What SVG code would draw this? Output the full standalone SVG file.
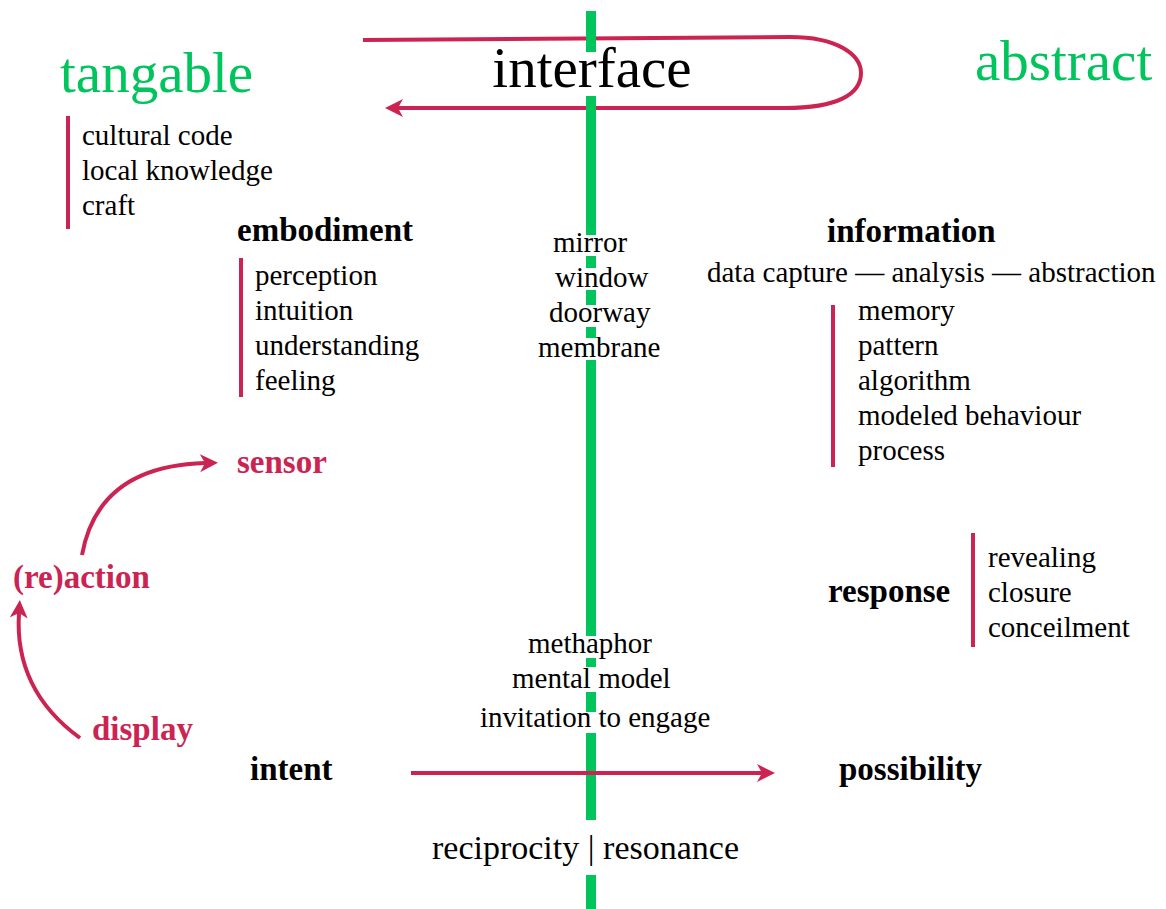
<svg xmlns="http://www.w3.org/2000/svg" width="1166" height="909" viewBox="0 0 1166 909" font-family="Liberation Serif, DejaVu Serif, serif">
<defs>
<style>
text{fill:#000}
.big{font-size:57px}
.g{fill:#00c45c}
.t{font-size:29px}
.tl{font-size:34px}
.b{font-size:33px;font-weight:bold}
.r{fill:#cc2452}
.bar{fill:#cc2452}
.con{fill:none;stroke:#cc2452;stroke-width:4}
.axis{fill:#00c45c}
</style>
<marker id="ah" viewBox="0 0 18 18" refX="5" refY="9" markerWidth="18" markerHeight="18" markerUnits="userSpaceOnUse" orient="auto">
<path d="M0,0 L18,9 L0,18 L5,9 Z" fill="#cc2452"/>
</marker>
</defs>
<rect width="1166" height="909" fill="#fff"/>

<g id="connectors-back">
<path class="con" d="M363,40 L790,37 C838,37 861,55 861,73 C861,94 838,108 785,108 L398,108" marker-end="url(#ah)"/>
</g>

<g id="axis">
<rect class="axis" x="586" y="11" width="10" height="41"/>
<rect class="axis" x="586" y="96" width="10" height="139"/>
<rect class="axis" x="586" y="256" width="10" height="12"/>
<rect class="axis" x="586" y="290" width="10" height="15"/>
<rect class="axis" x="586" y="327" width="10" height="11"/>
<rect class="axis" x="586" y="360" width="10" height="276"/>
<rect class="axis" x="586" y="658" width="10" height="9"/>
<rect class="axis" x="586" y="692" width="10" height="20"/>
<rect class="axis" x="586" y="733" width="10" height="87"/>
<rect class="axis" x="586" y="875" width="10" height="34"/>
</g>

<g id="connectors">
<path class="con" d="M411,773 L762,773" marker-end="url(#ah)"/>
<path class="con" d="M82,555 Q98,466 205,463" marker-end="url(#ah)"/>
<path class="con" d="M80,738 Q14,690 19,613" marker-end="url(#ah)"/>
</g>

<g id="interface"><text class="big" x="592" y="87" text-anchor="middle">interface</text></g>
<g id="tangable"><text class="big g" x="60" y="92">tangable</text></g>
<g id="abstract"><text class="big g" x="975" y="80">abstract</text></g>

<g id="tangable-list">
<rect class="bar" x="66" y="116" width="4" height="113"/>
<text class="t" x="82" y="145">cultural code</text>
<text class="t" x="82" y="180">local knowledge</text>
<text class="t" x="82" y="215">craft</text>
</g>

<g id="embodiment">
<text class="b" x="237" y="241">embodiment</text>
<rect class="bar" x="239" y="258" width="4" height="139"/>
<text class="t" x="255" y="285">perception</text>
<text class="t" x="255" y="320">intuition</text>
<text class="t" x="255" y="355">understanding</text>
<text class="t" x="255" y="390">feeling</text>
</g>

<g id="interface-forms">
<text class="t" x="553" y="252">mirror</text>
<text class="t" x="555" y="287">window</text>
<text class="t" x="549" y="322">doorway</text>
<text class="t" x="538" y="357">membrane</text>
</g>

<g id="information">
<text class="b" x="827" y="242">information</text>
<text class="t" x="707" y="282">data capture — analysis — abstraction</text>
<rect class="bar" x="831" y="305" width="4" height="162"/>
<text class="t" x="858" y="320">memory</text>
<text class="t" x="858" y="355">pattern</text>
<text class="t" x="858" y="390">algorithm</text>
<text class="t" x="858" y="425">modeled behaviour</text>
<text class="t" x="858" y="460">process</text>
</g>

<g id="sensor"><text class="b r" x="237" y="473">sensor</text></g>
<g id="reaction"><text class="b r" x="13" y="588">(re)action</text></g>
<g id="display"><text class="b r" x="92" y="740">display</text></g>

<g id="response">
<text class="b" x="828" y="602">response</text>
<rect class="bar" x="971" y="533" width="4" height="114"/>
<text class="t" x="988" y="567">revealing</text>
<text class="t" x="988" y="602">closure</text>
<text class="t" x="988" y="637">conceilment</text>
</g>

<g id="mental">
<text class="t" x="528" y="653">methaphor</text>
<text class="t" x="512" y="688">mental model</text>
<text class="t" x="480" y="727">invitation to engage</text>
</g>

<g id="intent"><text class="b" x="250" y="780">intent</text></g>
<g id="possibility"><text class="b" x="839" y="780">possibility</text></g>
<g id="reciprocity"><text class="tl" x="432" y="859">reciprocity | resonance</text></g>
</svg>
